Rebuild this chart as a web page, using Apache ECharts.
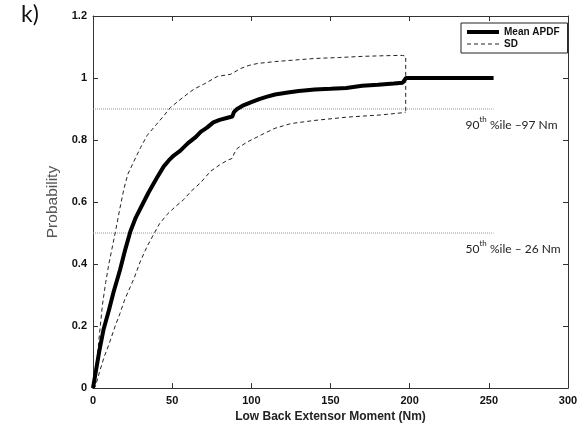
<!DOCTYPE html>
<html>
<head>
<meta charset="utf-8">
<script src="https://cdn.jsdelivr.net/npm/echarts@6/dist/echarts.min.js"></script>
<style>
html,body{margin:0;padding:0;background:#fff;}
#chart{width:588px;height:428px;}
</style>
</head>
<body>
<div id="chart"></div>
<script>
// ---- data ----
const meanX = [0, 2, 4, 6.7, 10, 13, 17, 20, 23.6, 27, 30, 35, 40, 44.7, 48, 51, 55, 60, 65, 68, 72, 76, 80, 85, 88, 89, 91, 95, 100, 105, 110, 115, 123, 130, 140, 150, 160, 170, 180, 190, 195.6, 196.5, 197.7, 210, 230, 253];
const meanY = [0, 0.06, 0.12, 0.19, 0.25, 0.31, 0.38, 0.44, 0.505, 0.55, 0.58, 0.63, 0.675, 0.715, 0.735, 0.75, 0.765, 0.79, 0.81, 0.826, 0.84, 0.857, 0.865, 0.872, 0.876, 0.89, 0.9, 0.912, 0.922, 0.932, 0.94, 0.947, 0.953, 0.958, 0.963, 0.965, 0.968, 0.975, 0.978, 0.982, 0.985, 0.99, 1.0, 1.0, 1.0, 1.0];

const upperX = [0, 2, 4, 6, 8, 10, 12, 14, 17, 19.4, 22, 25.7, 30, 34.2, 40, 45, 48.9, 55, 60, 64, 70, 78.5, 86.9, 93, 98, 104, 115, 125, 140, 155, 171, 185, 195.6, 197.5, 197.5];
const upperY = [0, 0.06, 0.17, 0.27, 0.34, 0.4, 0.45, 0.5, 0.58, 0.64, 0.69, 0.73, 0.775, 0.815, 0.85, 0.88, 0.905, 0.93, 0.95, 0.965, 0.98, 1.005, 1.012, 1.03, 1.04, 1.047, 1.053, 1.057, 1.063, 1.066, 1.07, 1.072, 1.073, 1.07, 0.89];

const lowerX = [0, 1.5, 4, 7, 10, 14, 17, 20, 26, 30, 34, 38.4, 42, 46.8, 52, 57.3, 62, 67.9, 74.2, 80, 85, 88, 89, 91.1, 97.5, 103, 108, 115, 124.9, 139.6, 160.7, 181.8, 195.6, 197.5];
const lowerY = [0, 0.005, 0.05, 0.1, 0.14, 0.2, 0.24, 0.285, 0.355, 0.41, 0.455, 0.497, 0.53, 0.56, 0.585, 0.608, 0.635, 0.662, 0.699, 0.72, 0.735, 0.741, 0.755, 0.773, 0.794, 0.808, 0.821, 0.838, 0.853, 0.863, 0.874, 0.881, 0.888, 0.89];

const refLevels = [0.9, 0.5];
const refEndX = 253;
const refLabels = [
  ['90', 'th', ' %ile \u201397 Nm'],
  ['50', 'th', ' %ile \u2013 26 Nm']
];

const xTicks = {min: 0, max: 300, interval: 50};
const yTicks = {min: 0, max: 1.2, interval: 0.2};

const zip = (xs, ys) => xs.map((x, i) => [x, ys[i]]);

const chart = echarts.init(document.getElementById('chart'), null, {renderer: 'canvas'});

const axisColor = '#333';
const tickLabel = {color: '#111', fontSize: 11, fontFamily: 'Liberation Sans, Arial, sans-serif', fontWeight: 'bold'};

const refSeries = refLevels.map((lv, i) => ({
  name: 'ref' + i,
  type: 'line',
  data: [[0, lv], [refEndX, lv]],
  showSymbol: false,
  symbol: 'none',
  silent: true,
  lineStyle: {color: '#999', width: 1, type: [1, 1]},
  z: 1
}));

chart.setOption({
  animation: false,
  backgroundColor: '#fff',
  grid: {left: 93, right: 20, top: 16, bottom: 35},
  legend: {
    data: [
      {name: 'Mean APDF', lineStyle: {width: 4, color: '#000'}},
      {name: 'SD', lineStyle: {width: 1, color: '#222', type: [4, 3]}}
    ],
    orient: 'vertical',
    left: 461, top: 23,
    padding: [4, 8, 4, 4],
    itemWidth: 32, itemHeight: 8, itemGap: 2,
    itemStyle: {opacity: 0},
    backgroundColor: '#fff',
    borderColor: '#222', borderWidth: 1, borderRadius: 0,
    textStyle: {fontSize: 10, fontWeight: 'bold', color: '#111', fontFamily: 'Liberation Sans, Arial, sans-serif', padding: [0, 0, 0, 0]}
  },
  xAxis: [{
    type: 'value', min: xTicks.min, max: xTicks.max, interval: xTicks.interval,
    position: 'bottom',
    name: 'Low Back Extensor Moment (Nm)', nameLocation: 'middle', nameGap: 19,
    nameTextStyle: {fontSize: 12, color: '#222', fontFamily: 'Liberation Sans, Arial, sans-serif', fontWeight: 'bold'},
    axisLine: {show: true, onZero: false, lineStyle: {color: axisColor, width: 1}},
    axisTick: {show: true, inside: true, length: 5, lineStyle: {color: axisColor}},
    axisLabel: Object.assign({margin: 7}, tickLabel),
    splitLine: {show: false}
  }, {
    type: 'value', min: xTicks.min, max: xTicks.max, interval: xTicks.interval,
    position: 'top',
    axisLine: {show: true, onZero: false, lineStyle: {color: axisColor, width: 1}},
    axisTick: {show: true, inside: true, length: 5, lineStyle: {color: axisColor}},
    axisLabel: {show: false},
    splitLine: {show: false}
  }],
  yAxis: [{
    type: 'value', min: yTicks.min, max: yTicks.max, interval: yTicks.interval,
    position: 'left',
    name: 'Probability', nameLocation: 'middle', nameGap: 30,
    nameTextStyle: {fontSize: 15.5, color: '#555', fontFamily: 'Liberation Sans, Arial, sans-serif'},
    axisLine: {show: true, onZero: false, lineStyle: {color: axisColor, width: 1}},
    axisTick: {show: true, inside: true, length: 5, lineStyle: {color: axisColor}},
    axisLabel: Object.assign({margin: 6, formatter: v => (Math.round(v * 10) / 10).toString()}, tickLabel),
    splitLine: {show: false}
  }, {
    type: 'value', min: yTicks.min, max: yTicks.max, interval: yTicks.interval,
    position: 'right',
    axisLine: {show: true, onZero: false, lineStyle: {color: axisColor, width: 1}},
    axisTick: {show: true, inside: true, length: 5, lineStyle: {color: axisColor}},
    axisLabel: {show: false},
    splitLine: {show: false}
  }],
  series: refSeries.concat([
    {
      name: 'SD', type: 'line', data: zip(upperX, upperY),
      showSymbol: false, symbol: 'none', z: 2,
      lineStyle: {color: '#222', width: 1, type: [4, 3]},
      itemStyle: {color: '#222'}
    },
    {
      name: 'SD', type: 'line', data: zip(lowerX, lowerY),
      showSymbol: false, symbol: 'none', z: 2,
      lineStyle: {color: '#222', width: 1, type: [4, 3]},
      itemStyle: {color: '#222'}
    },
    {
      name: 'Mean APDF', type: 'line', data: zip(meanX, meanY),
      showSymbol: false, symbol: 'none', z: 3,
      lineStyle: {color: '#000', width: 4},
      itemStyle: {color: '#000'}
    }
  ])
});

// annotation texts anchored to the reference lines via the axis scale
const graphics = [{
  type: 'text', left: 21, top: 3,
  style: {text: 'k)', fontSize: 23, fill: '#111', fontFamily: 'Lato, Open Sans, sans-serif'}
}];
refLevels.forEach((lv, i) => {
  const p = chart.convertToPixel({xAxisIndex: 0, yAxisIndex: 0}, [refEndX, lv]);
  graphics.push({
    type: 'text', x: p[0] - 28, y: p[1] + 6,
    style: {
      text: '{n|' + refLabels[i][0] + '}{s|' + refLabels[i][1] + '}{n|' + refLabels[i][2] + '}',
      rich: {
        n: {fontSize: 12, fill: '#222', fontFamily: 'Lato, Open Sans, sans-serif', verticalAlign: 'bottom', lineHeight: 16},
        s: {fontSize: 8, fill: '#222', fontFamily: 'Lato, Open Sans, sans-serif', verticalAlign: 'top', lineHeight: 16, padding: [0, 0, 6, 0]}
      }
    }
  });
});
chart.setOption({graphic: graphics});
</script>
</body>
</html>
